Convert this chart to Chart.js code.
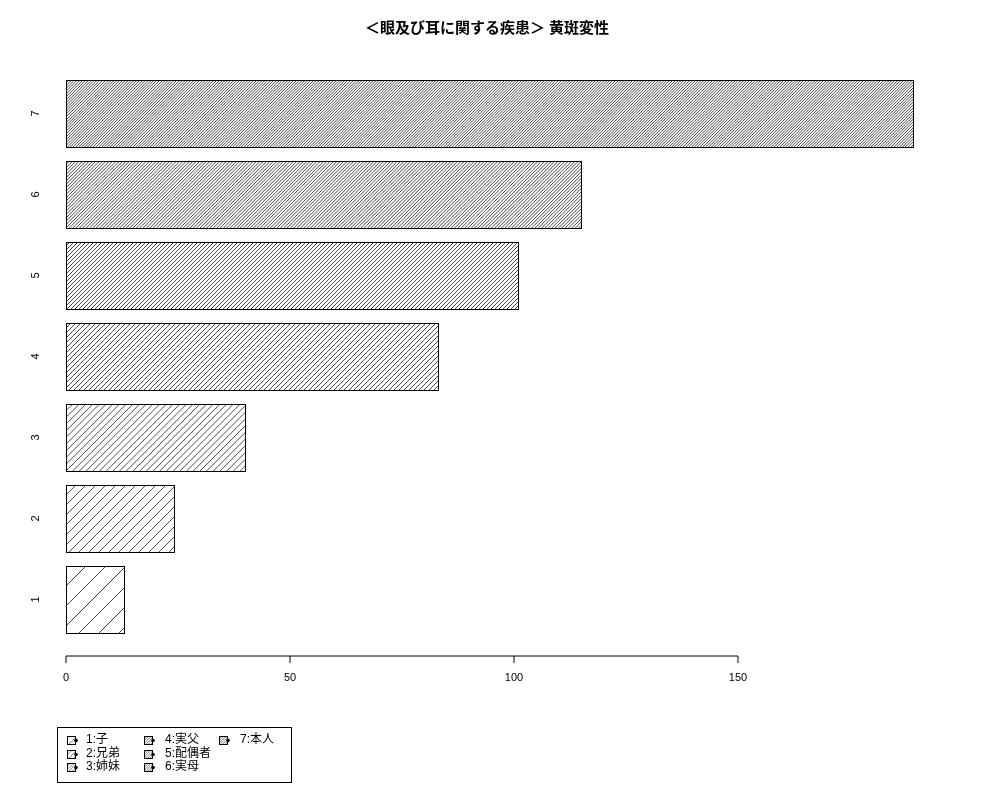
<!DOCTYPE html>
<html>
<head>
<meta charset="utf-8">
<script src="https://cdn.jsdelivr.net/npm/chart.js@4"></script>
<style>
    html, body { margin: 0; padding: 0; background: #fff; }
    canvas { display: block; }
</style>
</head>
<body>
<canvas id="chart" width="1000" height="800"></canvas>
<script>
// data
var categories = ['1', '2', '3', '4', '5', '6', '7'];
var values = [13, 24, 40, 83, 101, 115, 189];
var legendLabels = ['1:子', '2:兄弟', '3:姉妹', '4:実父', '5:配偶者', '6:実母', '7:本人'];
var xTicks = [0, 50, 100, 150];
var titleText = '＜眼及び耳に関する疾患＞ 黄斑変性';

// hatch line gap per bar (horizontal px), denser as bars go up
var hatchGap = [20, 10, 6.7, 5, 4, 3.35, 2.85];

var font = '"Liberation Sans", "Noto Sans CJK JP", sans-serif';

function hatchRect(ctx, left, top, w, h, gap, color, width) {
    ctx.save();
    ctx.beginPath();
    ctx.rect(left, top, w, h);
    ctx.clip();
    ctx.beginPath();
    for (var x0 = left - h; x0 < left + w; x0 += gap) {
        ctx.moveTo(x0, top + h);
        ctx.lineTo(x0 + h, top);
    }
    ctx.lineWidth = width;
    ctx.strokeStyle = color;
    ctx.stroke();
    ctx.restore();
}

var rStylePlugin = {
    id: 'rStyle',
    afterDatasetsDraw: function(chart) {
        var ctx = chart.ctx;
        var meta = chart.getDatasetMeta(0);
        var xs = chart.scales.x;
        var ys = chart.scales.y;

        // hatched bars with black outline
        meta.data.forEach(function(bar, i) {
            var p = bar.getProps(['x', 'y', 'base', 'height'], true);
            var left = Math.round(Math.min(p.base, p.x));
            var right = Math.round(Math.max(p.base, p.x));
            var top = Math.round(p.y - p.height / 2);
            var bottom = Math.round(p.y + p.height / 2);
            hatchRect(ctx, left, top, right - left, bottom - top, hatchGap[i], '#2a2a2a', 0.85);
            ctx.save();
            ctx.strokeStyle = '#000';
            ctx.lineWidth = 1;
            ctx.strokeRect(left + 0.5, top + 0.5, right - left, bottom - top);
            ctx.restore();
        });

        ctx.save();
        ctx.fillStyle = '#000';
        ctx.strokeStyle = '#000';
        ctx.lineWidth = 1;

        // x axis, only as far as the last tick
        var axisY = 656;
        ctx.beginPath();
        ctx.moveTo(xs.getPixelForValue(xTicks[0]), axisY);
        ctx.lineTo(xs.getPixelForValue(xTicks[xTicks.length - 1]), axisY);
        xTicks.forEach(function(t) {
            var px = Math.round(xs.getPixelForValue(t));
            ctx.moveTo(px, axisY);
            ctx.lineTo(px, axisY + 7);
        });
        ctx.stroke();
        ctx.font = '11px ' + font;
        ctx.textAlign = 'center';
        ctx.textBaseline = 'middle';
        xTicks.forEach(function(t) {
            ctx.fillText(String(t), xs.getPixelForValue(t), 678);
        });

        // category names, rotated like R
        categories.forEach(function(c, i) {
            var py = ys.getPixelForValue(i);
            ctx.save();
            ctx.translate(36, py);
            ctx.rotate(-Math.PI / 2);
            ctx.fillText(c, 0, 0);
            ctx.restore();
        });

        // title
        ctx.font = 'bold 15px ' + font;
        ctx.fillText(titleText, 487, 29);

        // legend box
        ctx.strokeRect(57.5, 727.5, 234, 55);
        var colSym = [67, 144, 219];
        var colTxt = [86, 165, 240];
        var rowY = [740, 753.5, 767];
        ctx.font = '12px ' + font;
        ctx.textAlign = 'left';
        legendLabels.forEach(function(lbl, i) {
            var col = Math.floor(i / 3);
            var row = i % 3;
            var sx = colSym[col];
            var sy = Math.round(rowY[row] - 4);
            hatchRect(ctx, sx, sy, 8, 8, Math.max(2.4, hatchGap[i] / 2), '#555', 0.7);
            ctx.strokeRect(sx + 0.5, sy + 0.5, 8, 8);
            ctx.beginPath();
            ctx.arc(sx + 9, sy + 4.5, 1.8, 0, Math.PI * 2);
            ctx.fill();
            ctx.fillText(lbl, colTxt[col], rowY[row]);
        });
        ctx.restore();
    }
};

new Chart(document.getElementById('chart'), {
    type: 'bar',
    data: {
        labels: categories,
        datasets: [{
            data: values,
            backgroundColor: '#ffffff',
            borderWidth: 0,
            barPercentage: 0.83,
            categoryPercentage: 1
        }]
    },
    options: {
        indexAxis: 'y',
        responsive: false,
        animation: false,
        devicePixelRatio: 1,
        layout: { padding: { left: 66, right: 53.4, top: 73, bottom: 160 } },
        scales: {
            x: { display: false, min: 0, max: 196.56 },
            y: { display: false, reverse: true }
        },
        plugins: {
            legend: { display: false },
            title: { display: false },
            tooltip: { enabled: false }
        }
    },
    plugins: [rStylePlugin]
});
</script>
</body>
</html>
